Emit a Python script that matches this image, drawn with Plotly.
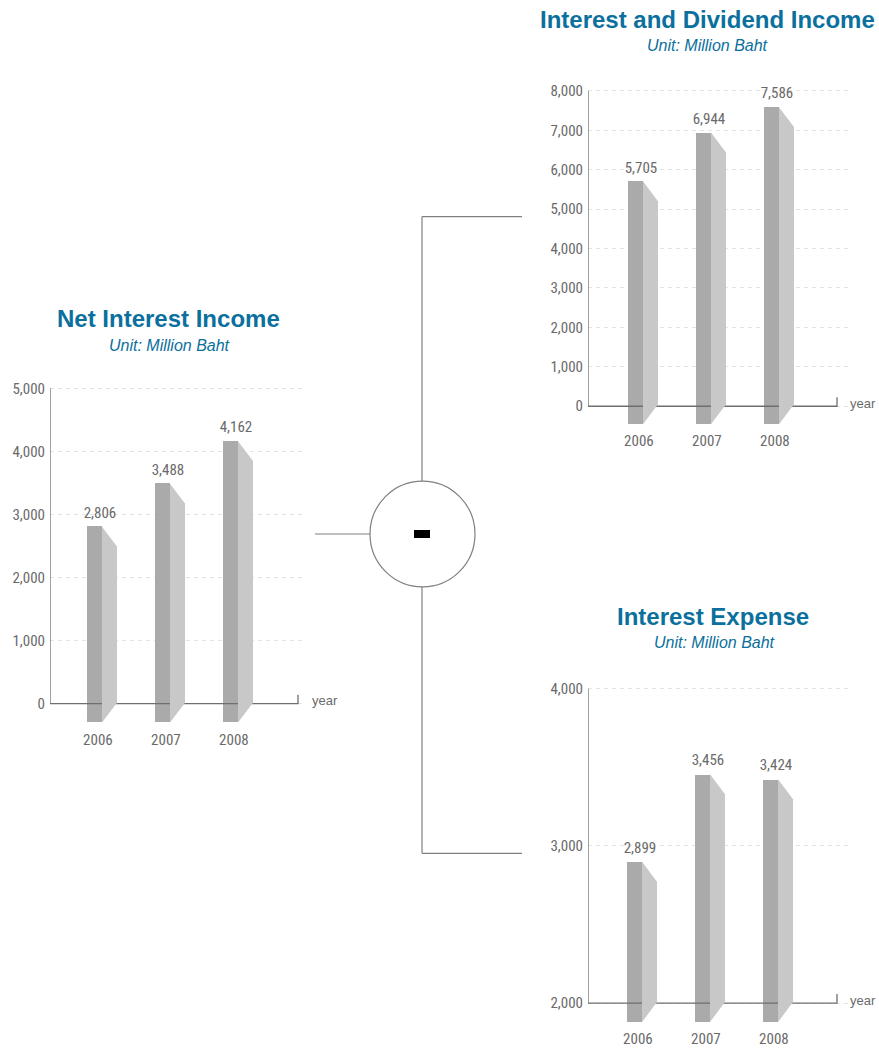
import plotly.graph_objects as go

W, H = 879, 1048

years = ["2006", "2007", "2008"]
net_interest_income = [2806, 3488, 4162]
interest_dividend_income = [5705, 6944, 7586]
interest_expense = [2899, 3456, 3424]

titles = ["Net Interest Income", "Interest and Dividend Income", "Interest Expense"]
unit_text = "Unit: Million Baht"

BLUE = "#0b709d"
FRONT = "#aaaaaa"
SIDE = "#c8c8c8"
AXIS = "#6f6f6f"
TXT = "#6a6a6a"
NUM_FONT = "Roboto Condensed, Liberation Sans Narrow, sans-serif"
TXT_FONT = "Liberation Sans, Arial, sans-serif"

# the page draws the figure slightly down and shorter; compensate
OFF_Y, H_EFF = 6, H - 8


def fy(ypx):
    return 1 - (ypx - OFF_Y) / H_EFF


def fx(xpx):
    return xpx / W


# pixel layout of each panel
panels = [
    dict(values=net_interest_income, vmin=0, vmax=5000, dtick=1000,
         axis_x=50, grid_end=306, axis_end=298, zero_px=704, top_px=388,
         bottom_px=723, center0=102, year_x=310,
         title_xy=(168, 318), unit_xy=(169, 345)),
    dict(values=interest_dividend_income, vmin=0, vmax=8000, dtick=1000,
         axis_x=588, grid_end=851, axis_end=837, zero_px=406, top_px=90,
         bottom_px=424, center0=643, year_x=848,
         title_xy=(707, 19), unit_xy=(707, 45)),
    dict(values=interest_expense, vmin=2000, vmax=4000, dtick=1000,
         axis_x=588, grid_end=848, axis_end=837, zero_px=1004, top_px=689,
         bottom_px=1023, center0=642, year_x=848,
         title_xy=(713, 617), unit_xy=(714, 643)),
]

CAT_PX = 68      # pixels between categories
FACE_PX = 15     # width of each bar face
DROP_PX = 20     # perspective drop of the side face

fig = go.Figure()
shapes = []
annotations = []

for k, p in enumerate(panels):
    sfx = "" if k == 0 else str(k + 1)
    xa, ya = "x" + sfx, "y" + sfx
    s = (p["vmax"] - p["vmin"]) / (p["zero_px"] - p["top_px"])  # data per px
    dom_bot_px = p["bottom_px"] + 2
    dom_top_px = p["top_px"] - 2
    y_lo = p["vmin"] - (dom_bot_px - p["zero_px"]) * s
    y_hi = p["vmax"] + (p["top_px"] - dom_top_px) * s
    base = p["vmin"] - (p["bottom_px"] - p["zero_px"]) * s
    fw = FACE_PX / CAT_PX
    d = DROP_PX * s
    x_lo = (p["axis_x"] - p["center0"]) / CAT_PX
    x_hi = (p["grid_end"] - p["center0"]) / CAT_PX
    x_end = (p["axis_end"] - p["center0"]) / CAT_PX
    idx = list(range(len(years)))

    # axis lines (drawn first so bars sit on top)
    fig.add_trace(go.Scatter(
        x=[x_lo, x_lo, x_end, x_end],
        y=[p["vmax"], p["vmin"], p["vmin"], p["vmin"] + 9 * s],
        mode="lines", line=dict(color=AXIS, width=1.3), cliponaxis=False,
        xaxis=xa, yaxis=ya, showlegend=False, hoverinfo="skip"))

    # front face
    fig.add_trace(go.Bar(
        x=idx, y=[v - base for v in p["values"]], base=[base] * len(idx),
        width=fw, offset=-fw, marker=dict(color=FRONT, line=dict(width=0)),
        xaxis=xa, yaxis=ya, showlegend=False, hoverinfo="skip"))
    # side faces
    for i, v in zip(idx, p["values"]):
        fig.add_trace(go.Scatter(
            x=[i, i + fw, i + fw, i, i],
            y=[v, v - d, base + d, base, v],
            mode="lines", fill="toself", fillcolor=SIDE,
            line=dict(width=0, color=SIDE),
            xaxis=xa, yaxis=ya, showlegend=False, hoverinfo="skip"))
    # value labels
    fig.add_trace(go.Scatter(
        x=[i - 0.03 for i in idx], y=[v + 5 * s for v in p["values"]],
        mode="text", text=[f"{v:,}" for v in p["values"]],
        textposition="top center", cliponaxis=False,
        textfont=dict(family=NUM_FONT, size=15, color=TXT),
        xaxis=xa, yaxis=ya, showlegend=False, hoverinfo="skip"))

    dom_x = [fx(p["axis_x"]), fx(p["grid_end"])]
    dom_y = [fy(dom_bot_px), fy(dom_top_px)]
    fig.update_layout(**{
        "xaxis" + sfx: dict(domain=dom_x, range=[x_lo, x_hi],
                            tickvals=[i - 0.06 for i in idx], ticktext=years,
                            showgrid=False, zeroline=False, showline=False,
                            ticks="", ticklabelstandoff=4,
                            tickfont=dict(family=NUM_FONT, size=15, color=TXT),
                            anchor=ya, fixedrange=True),
        "yaxis" + sfx: dict(domain=dom_y, range=[y_lo, y_hi],
                            tickmode="linear", tick0=p["vmin"], dtick=p["dtick"],
                            tickformat=",d", showgrid=True, griddash="4px,4px",
                            gridcolor="#e4e4e4", gridwidth=1,
                            zeroline=False, showline=False, ticks="",
                            ticklabelstandoff=4,
                            tickfont=dict(family=NUM_FONT, size=15, color=TXT),
                            anchor=xa, fixedrange=True),
    })

    xd = xa + " domain"
    annotations.append(dict(
        xref=xd, yref=ya,
        x=(p["year_x"] - p["axis_x"]) / (p["grid_end"] - p["axis_x"]),
        y=p["vmin"] + 3 * s, text="year", showarrow=False, xanchor="left",
        yanchor="middle", font=dict(family=TXT_FONT, size=13, color=TXT)))
    tx, ty = p["title_xy"]
    annotations.append(dict(
        xref="paper", yref="paper", x=fx(tx), y=fy(ty), text="<b>" + titles[k] + "</b>",
        showarrow=False, xanchor="center", yanchor="middle",
        font=dict(family=TXT_FONT, size=24, color=BLUE)))
    ux, uy = p["unit_xy"]
    annotations.append(dict(
        xref="paper", yref="paper", x=fx(ux), y=fy(uy), text=unit_text,
        showarrow=False, xanchor="center", yanchor="middle",
        font=dict(family=TXT_FONT, size=16, color=BLUE, style="italic")))


# connector diagram (paper coordinates from pixels)
def px_line(x0, y0, x1, y1):
    return dict(type="line", xref="paper", yref="paper",
                x0=fx(x0), x1=fx(x1), y0=fy(y0), y1=fy(y1),
                line=dict(color="#808080", width=1.2))


shapes += [
    px_line(315, 534, 370, 534),
    px_line(422, 216, 422, 481),
    px_line(422, 587, 422, 854),
    px_line(422, 216, 522, 216),
    px_line(422, 854, 522, 854),
    dict(type="circle", xref="paper", yref="paper",
         x0=fx(370), x1=fx(475), y0=fy(587), y1=fy(481),
         line=dict(color="#808080", width=1.2), fillcolor="white"),
    dict(type="rect", xref="paper", yref="paper",
         x0=fx(414), x1=fx(430), y0=fy(538), y1=fy(530),
         line=dict(width=0), fillcolor="black"),
]

fig.update_layout(
    width=W, height=H, autosize=False,
    margin=dict(l=0, r=0, t=0, b=0),
    paper_bgcolor="white", plot_bgcolor="white",
    shapes=shapes, annotations=annotations,
    bargap=0, showlegend=False,
)

fig.write_html("out.html", config={"displayModeBar": False},
               post_script="document.body.style.margin='0';document.body.style.overflow='hidden';")
